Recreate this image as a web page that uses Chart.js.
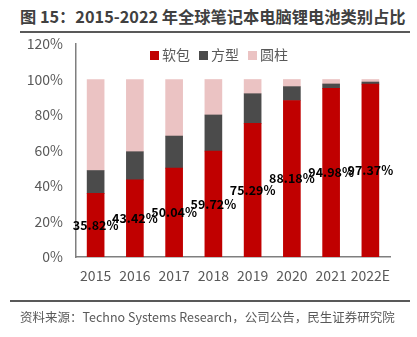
<!DOCTYPE html>
<html>
<head>
<meta charset="utf-8">
<script src="https://cdn.jsdelivr.net/npm/chart.js@4.4.1/dist/chart.umd.min.js"></script>
<style>
  html, body { margin: 0; padding: 0; background: #fff; }
  body { width: 417px; height: 337px; position: relative; overflow: hidden;
         font-family: "Microsoft YaHei", "Noto Sans CJK SC", sans-serif; }
  #title { position: absolute; left: 20px; top: 4px; font-size: 17px; font-weight: bold;
           color: #404040; white-space: nowrap; line-height: 24px; }
  #titleRule { position: absolute; left: 20px; top: 31px; width: 390px; height: 2px; background: #595959; }
  #box { position: absolute; left: 0; top: 0; width: 417px; height: 337px; }
  #legend { position: absolute; top: 44px; left: 150px; font-size: 14px; color: #595959; white-space: nowrap; }
  #legend span.item { display: inline-block; margin-right: 9px; }
  #legend i { display: inline-block; width: 9px; height: 9px; margin-right: 3px; vertical-align: 0px; }
  #srcRule { position: absolute; left: 10px; top: 300px; width: 400px; height: 1.5px; background: #595959; }
  #source { position: absolute; left: 20px; top: 307px; font-size: 12.5px; color: #595959; white-space: nowrap; }
</style>
</head>
<body>
<div id="title">图 15：2015-2022 年全球笔记本电脑锂电池类别占比</div>
<div id="titleRule"></div>
<div id="box"><canvas id="c" width="417" height="337"></canvas></div>
<div id="legend"></div>
<div id="srcRule"></div>
<div id="source">资料来源：Techno Systems Research，公司公告，民生证券研究院</div>
<script>
// Years on the x axis
const years = ['2015', '2016', '2017', '2018', '2019', '2020', '2021', '2022E'];
// Share of notebook lithium batteries by cell format (%)
const softPack    = [35.82, 43.42, 50.04, 59.72, 75.29, 88.18, 94.98, 97.37];
const prismatic   = [12.9, 15.9, 18.1, 20.3, 16.7, 7.8, 2.5, 1.2];
const cylindrical = [51.28, 40.68, 31.86, 19.98, 8.01, 4.02, 2.52, 1.43];
// Y axis ticks
const yTicks = [0, 20, 40, 60, 80, 100, 120];

const seriesNames  = ['软包', '方型', '圆柱'];
const seriesColors = ['#C00000', '#4B4B4B', '#EBC3C3'];

// Shrink the title until it fits its rule
const title = document.getElementById('title');
let fs = 17;
while (title.scrollWidth > 388 && fs > 10) { fs -= 0.25; title.style.fontSize = fs + 'px'; }

// HTML legend built from the series
const legend = document.getElementById('legend');
seriesNames.forEach((n, i) => {
  const s = document.createElement('span');
  s.className = 'item';
  s.innerHTML = '<i style="background:' + seriesColors[i] + '"></i>' + n;
  legend.appendChild(s);
});

// Value labels centred in the soft-pack bars
const centerLabels = {
  id: 'centerLabels',
  afterDatasetsDraw(chart) {
    const ctx = chart.ctx;
    const meta = chart.getDatasetMeta(0);
    ctx.save();
    ctx.font = 'bold 12.5px "Microsoft YaHei", "Noto Sans CJK SC", sans-serif';
    ctx.fillStyle = '#000';
    ctx.textAlign = 'center';
    ctx.textBaseline = 'middle';
    meta.data.forEach((bar, i) => {
      const y = (bar.y + bar.base) / 2;
      ctx.fillText(softPack[i].toFixed(2) + '%', bar.x, y);
    });
    ctx.restore();
  }
};

const font = { family: '"Microsoft YaHei", "Noto Sans CJK SC", sans-serif', size: 14 };

new Chart(document.getElementById('c'), {
  type: 'bar',
  data: {
    labels: years,
    datasets: [
      { label: seriesNames[0], data: softPack,    backgroundColor: seriesColors[0] },
      { label: seriesNames[1], data: prismatic,   backgroundColor: seriesColors[1] },
      { label: seriesNames[2], data: cylindrical, backgroundColor: seriesColors[2] }
    ]
  },
  options: {
    responsive: false,
    animation: false,
    layout: { padding: { left: 0, right: 27, top: 44, bottom: 50 } },
    datasets: { bar: { barThickness: 17, borderWidth: 0 } },
    plugins: { legend: { display: false }, tooltip: { enabled: false } },
    scales: {
      x: {
        stacked: true,
        grid: { display: false, drawTicks: false },
        border: { display: true, color: '#7F7F7F', width: 1.5 },
        ticks: { color: '#595959', font: font, padding: 10, maxRotation: 0, autoSkip: false },
        afterFit(s) { s.height = 30; }
      },
      y: {
        stacked: true,
        min: 0, max: 120,
        afterBuildTicks(s) { s.ticks = yTicks.map(v => ({ value: v })); },
        grid: { display: false, drawTicks: false },
        border: { display: true, color: '#7F7F7F', width: 1.5 },
        ticks: { color: '#595959', font: font, padding: 13, callback: v => v + '%' },
        afterFit(s) { s.width = 76; }
      }
    }
  },
  plugins: [centerLabels]
});
</script>
</body>
</html>
